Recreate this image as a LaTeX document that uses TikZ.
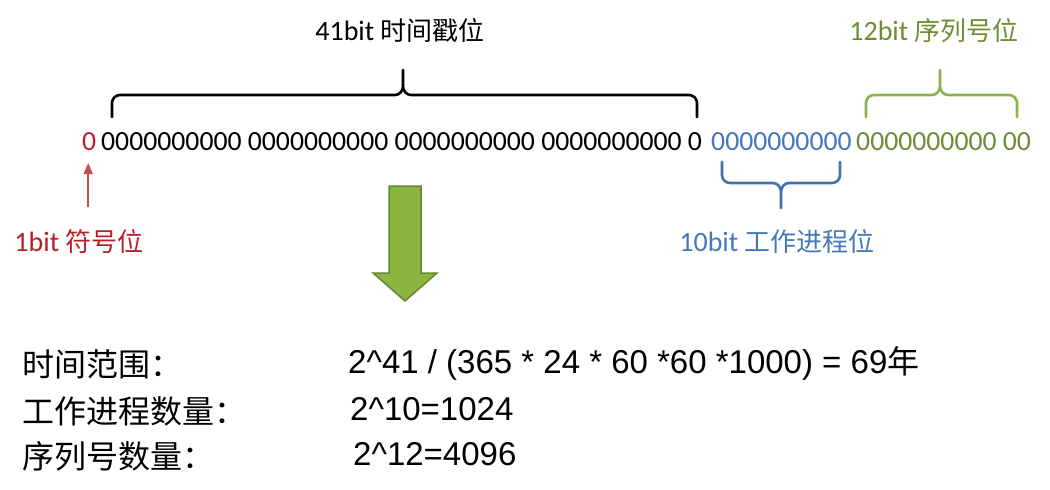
\documentclass[tikz,border=0pt]{standalone}
\usepackage{fontspec}
\setmainfont{Carlito}
\newfontfamily\cjk{Noto Sans CJK SC}
\newfontfamily\arialf{Liberation Sans}
\usetikzlibrary{arrows.meta,calc}
\definecolor{redtxt}{RGB}{185,30,40}
\definecolor{redarr}{RGB}{192,80,77}
\definecolor{bluetxt}{RGB}{70,120,185}
\definecolor{bluebr}{RGB}{65,113,175}
\definecolor{greentxt}{RGB}{110,140,50}
\definecolor{greenbr}{RGB}{142,178,78}
\definecolor{greenfill}{RGB}{140,180,65}
\definecolor{greenedge}{RGB}{100,135,48}
\begin{document}
\begin{tikzpicture}[x=1pt,y=1pt,
  bits/.style={anchor=base west,inner sep=0pt,font=\fontsize{27.7}{30}\selectfont},
  toplbl/.style={anchor=base,inner sep=0pt,font=\fontsize{28}{30}\selectfont},
  cjkl/.style={anchor=base west,inner sep=0pt,font=\cjk\fontsize{32}{36}\selectfont},
  vall/.style={anchor=base west,inner sep=0pt,font=\arialf\fontsize{33}{36}\selectfont},
  bracepen/.style={line width=2.6pt,line cap=round,line join=round}]
\useasboundingbox (0,0) rectangle (1050,-490);
% bit string
\node[bits,text=redtxt] (zero) at (82,-150) {0};
\node[bits,text=black] (ts) at (101,-150) {0000000000 0000000000 0000000000 0000000000 0};
\node[bits,text=bluetxt] (wk) at (711,-150) {0000000000};
\node[bits,text=greentxt] (sq) at (856,-150) {0000000000 00};
% labels
\node[toplbl,text=black] (tslbl) at (400,-40) {41bit {\cjk\fontsize{26}{30}\selectfont 时间戳位}};
\node[toplbl,text=greentxt] (sqlbl) at (934,-40) {12bit {\cjk\fontsize{26}{30}\selectfont 序列号位}};
\node[toplbl,text=bluetxt] (wklbl) at (777,-251) {10bit {\cjk\fontsize{26}{30}\selectfont 工作进程位}};
\node[toplbl,text=redtxt] (signlbl) at (79,-251) {1bit {\cjk\fontsize{26}{30}\selectfont 符号位}};
% braces
\draw[bracepen,black] (112,-117) -- (112,-103) to[out=90,in=180] (120,-95) -- (395,-95)
  to[out=0,in=-90] (403,-86) -- (403,-70) -- (403,-86) to[out=-90,in=180] (411,-95)
  -- (689,-95) to[out=0,in=90] (697,-103) -- (697,-117);
\draw[bracepen,greenbr] (866,-117) -- (866,-103) to[out=90,in=180] (874,-95) -- (932,-95)
  to[out=0,in=-90] (940,-86) -- (940,-70) -- (940,-86) to[out=-90,in=180] (948,-95)
  -- (1009,-95) to[out=0,in=90] (1017,-103) -- (1017,-117);
\draw[bracepen,bluebr] (722,-162) -- (722,-175) to[out=-90,in=180] (730,-183) -- (773,-183)
  to[out=0,in=90] (781,-192) -- (781,-208) -- (781,-192) to[out=90,in=180] (789,-183)
  -- (832,-183) to[out=0,in=-90] (840,-175) -- (840,-162);
% sign arrow
\draw[redarr,line width=2pt,-{Triangle[width=9pt,length=11pt]}]
  ($(zero.base)+(-1,-57)$) -- ($(zero.base)+(-1,-13)$);
% big green arrow
\draw[greenedge,fill=greenfill,line width=1.5pt,line join=miter]
  (389,-186) -- (421,-186) -- (421,-273) -- (437,-273) -- (405,-301)
  -- (373,-273) -- (389,-273) -- cycle;
% bottom lines
\node[cjkl] (l1) at (22,-376) {时间范围：};
\node[cjkl] (l2) at (22,-423) {工作进程数量：};
\node[cjkl] (l3) at (22,-468) {序列号数量：};
\node[vall] (v1) at (348,-373) {2\^{}41 / (365 * 24 * 60 *60 *1000) = 69{\cjk\fontsize{32}{36}\selectfont 年}};
\node[vall] (v2) at (350,-420) {2\^{}10=1024};
\node[vall] (v3) at (353,-465) {2\^{}12=4096};
\end{tikzpicture}
\end{document}
